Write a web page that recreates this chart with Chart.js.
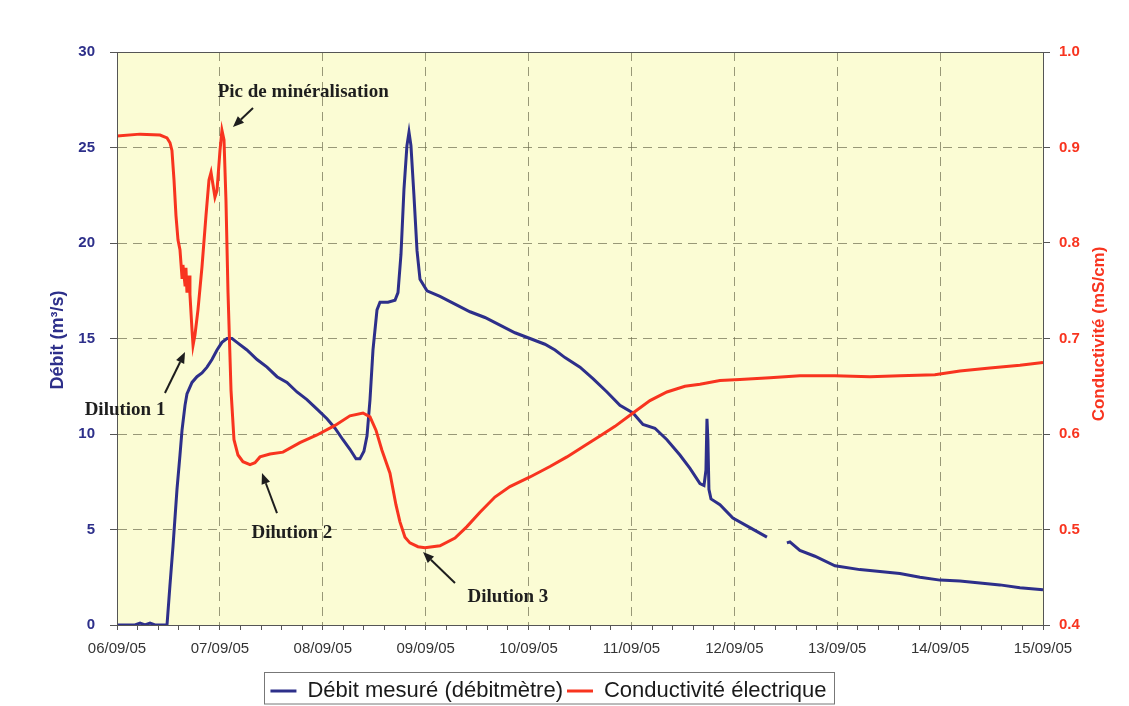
<!DOCTYPE html>
<html>
<head>
<meta charset="utf-8">
<script src="https://cdn.jsdelivr.net/npm/chart.js@4.4.1/dist/chart.umd.min.js"></script>
<style>
  html, body { margin: 0; padding: 0; background: #ffffff; }
  #wrap { width: 1129px; height: 706px; position: relative; }
</style>
</head>
<body>
<div id="wrap"><canvas id="c" width="1129" height="706"></canvas></div>
<script>
// ---- Data (x in days since 06/09/05 00:00) ----
const xTickLabels = ['06/09/05','07/09/05','08/09/05','09/09/05','10/09/05','11/09/05','12/09/05','13/09/05','14/09/05','15/09/05'];

const debitTime = [0.000,0.175,0.224,0.272,0.321,0.369,0.486,0.515,0.544,0.583,0.612,0.632,0.661,0.680,0.729,0.777,0.826,0.875,0.923,0.972,1.020,1.069,1.118,1.166,1.263,1.361,1.458,1.555,1.652,1.749,1.846,1.944,2.041,2.119,2.196,2.264,2.323,2.361,2.400,2.430,2.459,2.488,2.527,2.556,2.634,2.702,2.731,2.760,2.789,2.818,2.838,2.857,2.886,2.916,2.945,3.013,3.139,3.285,3.431,3.576,3.722,3.868,4.014,4.159,4.257,4.354,4.500,4.626,4.762,4.888,5.015,5.112,5.228,5.345,5.471,5.569,5.666,5.705,5.724,5.734,5.743,5.753,5.773,5.860,5.986,6.152,6.317,6.420,6.511,6.540,6.637,6.783,6.978,7.220,7.415,7.609,7.804,7.998,8.192,8.387,8.581,8.776,9.000];
const debit = [0,0,0.1,0,0.1,0,0,2.1,4.1,7.1,8.9,10.2,11.5,12.1,12.7,13.0,13.2,13.5,13.9,14.4,14.8,15.0,15.0,14.8,14.4,13.9,13.5,13.0,12.7,12.2,11.8,11.3,10.8,10.3,9.7,9.2,8.7,8.7,9.1,9.9,11.8,14.4,16.5,16.9,16.9,17.0,17.4,19.4,22.8,25.1,25.8,25.1,22.5,19.6,18.1,17.5,17.2,16.8,16.4,16.1,15.7,15.3,15.0,14.7,14.4,14.0,13.5,12.9,12.2,11.5,11.1,10.5,10.3,9.7,8.9,8.2,7.4,7.3,8.1,10.8,9.7,7.1,6.6,6.3,5.6,5.1,4.6,null,4.3,4.35,3.9,3.6,3.1,2.9,2.8,2.7,2.5,2.35,2.3,2.2,2.1,1.95,1.85];

const condTime = [0.000,0.224,0.418,0.486,0.515,0.534,0.554,0.573,0.593,0.612,0.632,0.641,0.661,0.670,0.680,0.700,0.709,0.729,0.739,0.758,0.787,0.826,0.865,0.894,0.914,0.933,0.952,0.972,1.001,1.020,1.040,1.059,1.079,1.108,1.137,1.176,1.224,1.293,1.341,1.390,1.487,1.613,1.778,1.944,2.119,2.264,2.391,2.459,2.517,2.575,2.653,2.711,2.750,2.799,2.847,2.925,2.993,3.139,3.285,3.401,3.528,3.673,3.819,4.014,4.208,4.373,4.548,4.694,4.840,5.015,5.180,5.345,5.520,5.666,5.860,6.054,6.346,6.638,6.978,7.318,7.609,7.949,8.192,8.484,8.776,9.000];
const conductivite = [0.912,0.914,0.913,0.910,0.905,0.897,0.866,0.829,0.803,0.793,0.764,0.777,0.756,0.774,0.748,0.766,0.746,0.709,0.693,0.704,0.730,0.775,0.829,0.866,0.874,0.861,0.848,0.855,0.897,0.918,0.908,0.845,0.748,0.646,0.594,0.578,0.571,0.568,0.570,0.576,0.579,0.581,0.591,0.599,0.609,0.619,0.622,0.618,0.604,0.583,0.559,0.526,0.508,0.492,0.486,0.482,0.481,0.483,0.491,0.503,0.518,0.534,0.545,0.555,0.566,0.576,0.588,0.598,0.608,0.622,0.635,0.644,0.650,0.652,0.656,0.657,0.659,0.661,0.661,0.660,0.661,0.662,0.666,0.669,0.672,0.675];

// annotations: text anchor (day, débit units), arrow start -> arrow tip
const annoLabels = ['Pic de minéralisation','Dilution 1','Dilution 2','Dilution 3'];
const annoText  = [[1.810,27.9],[0.078,11.26],[1.70,4.82],[3.80,1.47]];
const annoFrom  = [[1.322,27.07],[0.466,12.15],[1.555,5.86],[3.285,2.20]];
const annoTo    = [[1.127,26.07],[0.661,14.29],[1.409,7.96],[2.974,3.82]];

const BLUE = '#2d2f8a';
const RED  = '#f8341f';
const GRID = 'rgba(110,110,80,0.7)';
const AXIS = '#555555';
const SANS = '"Liberation Sans", Arial, sans-serif';

const plotBg = {
  id: 'plotBg',
  beforeDraw(chart) {
    const {ctx, chartArea: a} = chart;
    ctx.save();
    ctx.fillStyle = '#fbfcd4';
    ctx.fillRect(a.left, a.top, a.right - a.left, a.bottom - a.top);
    ctx.restore();
  },
  afterDraw(chart) {
    const {ctx, chartArea: a} = chart;
    const xs = chart.scales.x, ys = chart.scales.y;
    // frame
    ctx.save();
    ctx.strokeStyle = AXIS; ctx.lineWidth = 1;
    ctx.strokeRect(a.left + 0.5, a.top + 0.5, a.right - a.left, a.bottom - a.top);
    ctx.restore();
    // axis titles
    ctx.save();
    ctx.font = 'bold 18px ' + SANS;
    ctx.textAlign = 'center'; ctx.textBaseline = 'middle';
    ctx.fillStyle = BLUE;
    ctx.translate(58, 340); ctx.rotate(-Math.PI/2);
    ctx.fillText('Débit (m³/s)', 0, 0);
    ctx.restore();
    ctx.save();
    ctx.font = 'bold 17px ' + SANS;
    ctx.textAlign = 'center'; ctx.textBaseline = 'middle';
    ctx.fillStyle = RED;
    ctx.translate(1099, 334); ctx.rotate(-Math.PI/2);
    ctx.fillText('Conductivité (mS/cm)', 0, 0);
    ctx.restore();

    // annotations
    ctx.save();
    ctx.fillStyle = '#1e1e1e'; ctx.strokeStyle = '#1e1e1e';
    ctx.font = 'bold 19px "Liberation Serif", "Times New Roman", serif';
    ctx.textAlign = 'center'; ctx.textBaseline = 'middle';
    annoLabels.forEach((t, i) => {
      ctx.fillText(t, xs.getPixelForValue(annoText[i][0]), ys.getPixelForValue(annoText[i][1]));
      const x1 = xs.getPixelForValue(annoFrom[i][0]), y1 = ys.getPixelForValue(annoFrom[i][1]);
      const x2 = xs.getPixelForValue(annoTo[i][0]),   y2 = ys.getPixelForValue(annoTo[i][1]);
      const ang = Math.atan2(y2 - y1, x2 - x1);
      const hl = 11, hw = 4.5;
      const bx = x2 - hl * Math.cos(ang), by = y2 - hl * Math.sin(ang);
      ctx.lineWidth = 2;
      ctx.beginPath(); ctx.moveTo(x1, y1); ctx.lineTo(bx, by); ctx.stroke();
      ctx.beginPath();
      ctx.moveTo(x2, y2);
      ctx.lineTo(bx + hw * Math.sin(ang), by - hw * Math.cos(ang));
      ctx.lineTo(bx - hw * Math.sin(ang), by + hw * Math.cos(ang));
      ctx.closePath(); ctx.fill();
    });
    ctx.restore();

    // legend frame
    const lg = chart.legend;
    if (lg && lg.legendHitBoxes && lg.legendHitBoxes.length) {
      const hb = lg.legendHitBoxes;
      let l = Infinity, r = -Infinity, t = Infinity, b = -Infinity;
      hb.forEach(h => { l = Math.min(l, h.left); r = Math.max(r, h.left + h.width); t = Math.min(t, h.top); b = Math.max(b, h.top + h.height); });
      ctx.save();
      ctx.strokeStyle = '#777'; ctx.lineWidth = 1;
      const top = Math.round(t - 8) + 0.5;
      ctx.strokeRect(Math.round(l - 6) + 0.5, top, Math.round(r - l + 14), Math.min(Math.round(b - t + 15), 704 - top));
      ctx.restore();
    }
  }
};

new Chart(document.getElementById('c'), {
  type: 'line',
  data: {
    datasets: [
      {
        label: 'Débit mesuré (débitmètre)',
        data: debitTime.map((t, i) => ({x: t, y: debit[i]})),
        borderColor: BLUE, backgroundColor: BLUE,
        borderWidth: 3, pointRadius: 0, tension: 0, spanGaps: false,
        yAxisID: 'y', order: 1
      },
      {
        label: 'Conductivité électrique',
        data: condTime.map((t, i) => ({x: t, y: conductivite[i]})),
        borderColor: RED, backgroundColor: RED,
        borderWidth: 3, pointRadius: 0, tension: 0,
        yAxisID: 'y1', order: 0
      }
    ]
  },
  options: {
    responsive: false,
    animation: false,
    devicePixelRatio: 1,
    layout: { padding: { top: 52, left: 0, right: 32, bottom: -6 } },
    plugins: {
      legend: {
        position: 'bottom',
        labels: {
          usePointStyle: true, pointStyle: 'line', pointStyleWidth: 26,
          boxHeight: 3,
          padding: 4,
          color: '#1a1a1a',
          font: { family: SANS, size: 22 },
          sort: (a, b) => a.datasetIndex - b.datasetIndex
        }
      },
      tooltip: { enabled: false }
    },
    scales: {
      x: {
        type: 'linear', min: 0, max: 9,
        afterFit(s) { s.height = 51; },
        ticks: {
          stepSize: 0.2, autoSkip: false, maxRotation: 0, padding: 10,
          color: '#333',
          font: { family: SANS, size: 15 },
          callback: (v) => Math.abs(v - Math.round(v)) < 1e-6 ? xTickLabels[Math.round(v)] : ''
        },
        grid: {
          color: (c) => (c.tick && Math.abs(c.tick.value - Math.round(c.tick.value)) < 1e-6) ? GRID : 'rgba(0,0,0,0)',
          tickColor: AXIS, tickLength: 5, lineWidth: 1
        },
        border: { display: true, color: AXIS, dash: [9, 6] }
      },
      y: {
        position: 'left', min: 0, max: 30,
        afterFit(s) { s.width = 117; },
        ticks: {
          stepSize: 5, padding: 15, color: BLUE,
          font: { family: SANS, size: 15, weight: 'bold' }
        },
        grid: { color: GRID, tickColor: AXIS, tickLength: 7, lineWidth: 1 },
        border: { display: true, color: AXIS, dash: [9, 6] }
      },
      y1: {
        position: 'right', min: 0.4, max: 1.0,
        afterFit(s) { s.width = 54; },
        ticks: {
          stepSize: 0.1, padding: 9, color: RED,
          font: { family: SANS, size: 15, weight: 'bold' },
          callback: (v) => v.toFixed(1)
        },
        grid: { drawOnChartArea: false, tickColor: AXIS, tickLength: 7 },
        border: { display: true, color: AXIS }
      }
    }
  },
  plugins: [plotBg]
});
</script>
</body>
</html>
